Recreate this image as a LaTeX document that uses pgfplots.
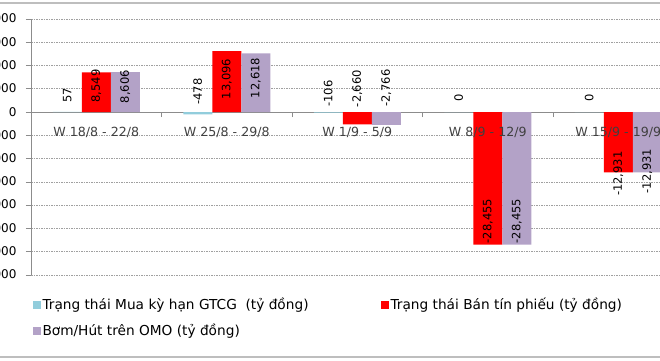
\documentclass[border=0pt]{standalone}
\usepackage{fontspec}
\setmainfont{DejaVu Sans}
\usepackage{pgfplots}
\pgfplotsset{compat=1.18}
\definecolor{cyanbar}{HTML}{92CDDC}
\definecolor{redbar}{HTML}{FF0000}
\definecolor{purplebar}{HTML}{B3A2C7}
\definecolor{gridgray}{HTML}{A0A0A0}
\definecolor{axgray}{HTML}{8C8C8C}
\definecolor{framegray}{HTML}{BEBEBE}
\definecolor{labgray}{HTML}{404040}
\begin{document}
\begin{tikzpicture}
\begin{axis}[
  at={(31pt,85pt)}, anchor=south west,
  scale only axis, width=652.5pt, height=256pt,
  xmin=-0.5, xmax=4.5, ymin=-35000, ymax=20000,
  axis x line=middle, axis y line=left,
  axis line style={-, draw=axgray, line width=0.8pt},
  tick align=outside, major tick length=5pt,
  tick style={draw=axgray, line width=0.8pt},
  xtick={0.5,1.5,2.5,3.5}, xticklabels={},
  ytick={-35000,-30000,...,20000},
  scaled y ticks=false,
  /pgf/number format/assume math mode=true,
  /pgf/number format/1000 sep={,},
  yticklabel style={font=\fontsize{12}{14}\selectfont, text=black, xshift=-6pt},
  ymajorgrids,
  y grid style={dash pattern=on 1.5pt off 1pt, gridgray, line width=0.7pt},
  legend columns=2,
  legend image code/.code={\fill[#1] (0pt,-4pt) rectangle (8pt,4pt);},
  legend style={at={(0.002,-0.082)}, anchor=north west, draw=none, fill=none,
    font=\fontsize{13.7}{16}\selectfont, text=black, inner sep=0pt,
    /tikz/row sep=9pt,
    /tikz/every even column/.append style={column sep=70pt}},
  legend cell align=left,
]
\addplot[ybar, bar width=29pt, bar shift=-29pt, fill=cyanbar, draw=none]
  coordinates {(0,57) (1,-478) (2,-106) (3,0) (4,0)};
\addlegendentry{Trạng thái Mua kỳ hạn GTCG\ \ (tỷ đồng)}
\addplot[ybar, bar width=29pt, bar shift=0pt, fill=redbar, draw=none]
  coordinates {(0,8549) (1,13096) (2,-2660) (3,-28455) (4,-12931)};
\addlegendentry{Trạng thái Bán tín phiếu (tỷ đồng)}
\addplot[ybar, bar width=29pt, bar shift=29pt, fill=purplebar, draw=none]
  coordinates {(0,8606) (1,12618) (2,-2766) (3,-28455) (4,-12931)};
\addlegendentry{Bơm/Hút trên OMO (tỷ đồng)}
% data labels
\addplot[only marks, mark=*, mark size=0pt, mark options={draw=none, fill=none},
  forget plot, nodes near coords, point meta=explicit symbolic,
  nodes near coords style={rotate=90, anchor=center, inner sep=0pt,
    font=\fontsize{11.5}{13}\selectfont, text=black}]
  table[meta=lab] {
x y lab
-0.2222 3545 57
0 5586 8,549
0.2222 5478 8,606
0.7778 4404 -478
1 7090 13,096
1.2222 7305 12,618
1.7778 3975 -106
2 5049 -2,660
2.2222 5156 -2,766
2.7778 3008 0
3 -23418 -28,455
3.2222 -23418 -28,455
3.7778 3008 0
4 -13213 -12,931
4.2222 -12676 -12,931
};
% category labels (drawn over the bars, as in the reference)
\addplot[only marks, mark=*, mark size=0pt, mark options={draw=none, fill=none},
  forget plot, nodes near coords, point meta=explicit symbolic,
  nodes near coords style={anchor=center, inner sep=0pt,
    font=\fontsize{12.6}{15}\selectfont, text=labgray}]
  coordinates {(0,-4300) [W 18/8 - 22/8] (1,-4300) [W 25/8 - 29/8]
    (2,-4300) [W 1/9 - 5/9] (3,-4300) [W 8/9 - 12/9] (4,-4300) [W 15/9 - 19/9]};
\end{axis}
\pgfresetboundingbox
\useasboundingbox (0,0) rectangle (660pt,360pt);
\draw[framegray, line width=2pt] (0,357pt) -- (660pt,357pt);
\draw[framegray, line width=2pt] (0,3pt) -- (660pt,3pt);
\end{tikzpicture}
\end{document}
